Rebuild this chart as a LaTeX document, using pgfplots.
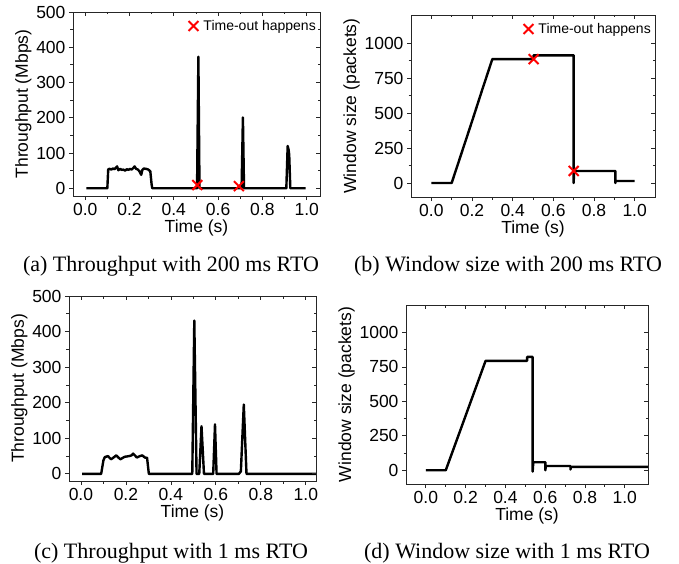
\documentclass[border=0pt]{standalone}
\usepackage{fontspec}
\setmainfont{Liberation Serif}
\setsansfont{Liberation Sans}
\usepackage{pgfplots}
\pgfplotsset{compat=1.18}

\pgfplotsset{
  base/.style={
    scale only axis,
    anchor=south west,
    font=\sffamily\fontsize{17.5}{18}\selectfont,
    tick label style={font=\sffamily\fontsize{17.5}{18}\selectfont},
    /pgf/number format/assume math mode=true,
    /pgf/number format/1000 sep={},
    axis line style={line width=0.8pt, black!85},
    major tick length=4pt,
    minor tick length=2.5pt,
    every tick/.style={line width=0.8pt, black!85},
    minor x tick num=1,
    minor y tick num=1,
  },
  mainax/.style={base, tick align=outside, xtick pos=left, ytick pos=left,
    x tick label style={/pgf/number format/.cd, fixed, fixed zerofill, precision=1, /tikz/.cd},
    xlabel style={yshift=2.5pt},
    ylabel style={yshift=-2pt},
    legend style={at={(1,1)}, anchor=north east, draw=none, fill=none,
      font=\sffamily\fontsize{14}{14}\selectfont, inner sep=2pt, yshift=-4pt},
    legend cell align=left,
  },
  mirror/.style={base, tick align=inside, xtick pos=right, ytick pos=right,
    xticklabels={}, yticklabels={}},
  curve/.style={black, line width=2.4pt, line join=round, forget plot},
  tout/.style={only marks, red, mark=x, mark size=7pt, line width=2pt,
    legend image code/.code={%
      \draw[red, line width=2pt, mark=x, mark size=7pt] plot coordinates {(0pt,0pt)};
      \path (7pt,0pt);}},
}

\begin{document}
\begin{tikzpicture}
\path[use as bounding box] (0,0) rectangle (679pt,563pt);

% (a)
\begin{axis}[mainax, at={(73pt,367pt)}, width=247pt, height=184pt,
  xmin=-0.055, xmax=1.06, ymin=-22, ymax=500,
  xtick={0,0.2,...,1.0}, ytick={0,100,...,500},
  xlabel={Time (s)}, ylabel={Throughput (Mbps)}]
\addplot[curve] coordinates {
(0.005,0) (0.100,0) (0.104,54) (0.110,55) (0.118,53) (0.125,56) (0.132,54)
(0.138,58) (0.144,62) (0.150,51) (0.158,55) (0.165,52) (0.172,53) (0.180,50)
(0.188,54) (0.195,52) (0.203,55) (0.210,53) (0.218,58) (0.223,62) (0.230,55)
(0.238,53) (0.245,48) (0.253,38) (0.258,52) (0.265,56) (0.275,55) (0.285,53)
(0.294,48) (0.300,10) (0.303,0) (0.505,0) (0.511,373) (0.516,0) (0.706,0)
(0.712,201) (0.717,0) (0.908,0) (0.914,120) (0.918,110) (0.921,95) (0.926,0)
(0.995,0)};
\addplot[tout] coordinates {(0.506,9) (0.694,6)};
\addlegendentry{Time-out happens}
\end{axis}
\begin{axis}[mirror, at={(73pt,367pt)}, width=247pt, height=184pt,
  xmin=-0.055, xmax=1.06, ymin=-22, ymax=500,
  xtick={0,0.2,...,1.0}, ytick={0,100,...,500}]
\end{axis}

% (b)
\begin{axis}[mainax, at={(411pt,366pt)}, width=244pt, height=182pt,
  xmin=-0.1, xmax=1.1, ymin=-100, ymax=1200,
  xtick={0,0.2,...,1.0}, ytick={0,250,...,1000},
  xlabel={Time (s)}, ylabel={Window size (packets)}]
\addplot[curve] coordinates {
(0.0,0) (0.1,0) (0.2,440) (0.25,665) (0.3,885) (0.503,885) (0.503,912)
(0.700,912) (0.700,0) (0.702,86) (0.905,86) (0.905,0) (0.907,14) (1.0,14)};
\addplot[tout] coordinates {(0.503,885) (0.700,86)};
\addlegendentry{Time-out happens}
\end{axis}
\begin{axis}[mirror, at={(411pt,366pt)}, width=244pt, height=182pt,
  xmin=-0.1, xmax=1.1, ymin=-100, ymax=1200,
  xtick={0,0.2,...,1.0}, ytick={0,250,...,1000}]
\end{axis}

% (c)
\begin{axis}[mainax, at={(69pt,82pt)}, width=247pt, height=185pt,
  xmin=-0.053, xmax=1.045, ymin=-20, ymax=500,
  xtick={0,0.2,...,1.0}, ytick={0,100,...,500},
  xlabel={Time (s)}, ylabel={Throughput (Mbps)}]
\addplot[curve] coordinates {
(0.005,0) (0.090,0) (0.100,38) (0.106,47) (0.120,50) (0.134,41) (0.147,47)
(0.157,52) (0.175,41) (0.194,48) (0.214,50) (0.225,52) (0.232,57) (0.249,46)
(0.262,50) (0.273,52) (0.284,46) (0.294,45) (0.302,0) (0.495,0) (0.504,431)
(0.514,0) (0.526,0) (0.536,134) (0.547,0) (0.588,0) (0.596,139) (0.603,0)
(0.702,0) (0.711,7) (0.724,195) (0.736,0) (1.1,0)};
\end{axis}
\begin{axis}[mirror, at={(69pt,82pt)}, width=247pt, height=185pt,
  xmin=-0.053, xmax=1.045, ymin=-20, ymax=500,
  xtick={0,0.2,...,1.0}, ytick={0,100,...,500}]
\end{axis}

% (d)
\begin{axis}[mainax, at={(406pt,79pt)}, width=242pt, height=179pt,
  xmin=-0.1, xmax=1.117, ymin=-100, ymax=1200,
  xtick={0,0.2,...,1.0}, ytick={0,250,...,1000},
  xlabel={Time (s)}, ylabel={Window size (packets)}]
\addplot[curve] coordinates {
(0.0,0) (0.1,0) (0.2,397) (0.3,794) (0.509,794) (0.509,823) (0.537,823)
(0.537,-10) (0.540,58) (0.601,58) (0.601,0) (0.603,31) (0.727,31) (0.727,5)
(0.729,24) (1.2,24)};
\end{axis}
\begin{axis}[mirror, at={(406pt,79pt)}, width=242pt, height=179pt,
  xmin=-0.1, xmax=1.117, ymin=-100, ymax=1200,
  xtick={0,0.2,...,1.0}, ytick={0,250,...,1000}]
\end{axis}

% captions
\node[font=\rmfamily\fontsize{22}{24}\selectfont, anchor=base] at (171pt,292pt) {(a) Throughput with 200 ms RTO};
\node[font=\rmfamily\fontsize{22}{24}\selectfont, anchor=base] at (508pt,292pt) {(b) Window size with 200 ms RTO};
\node[font=\rmfamily\fontsize{22}{24}\selectfont, anchor=base] at (171pt,5pt) {(c) Throughput with 1 ms RTO};
\node[font=\rmfamily\fontsize{22}{24}\selectfont, anchor=base] at (507pt,5pt) {(d) Window size with 1 ms RTO};
\end{tikzpicture}
\end{document}
